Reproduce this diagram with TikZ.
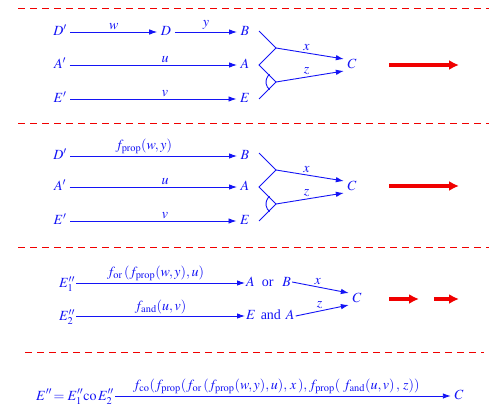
\documentclass[tikz,border=0pt]{standalone}
\usepackage{mathptmx}
\usepackage{fontspec}
\setmainfont{Liberation Serif}
\usetikzlibrary{arrows.meta}
\definecolor{dblue}{RGB}{20,20,245}
\definecolor{dred}{RGB}{240,0,0}
\begin{document}
\begin{tikzpicture}[x=1pt,y=-1pt,
  every node/.style={text=dblue, font=\fontsize{14}{16}\selectfont, inner sep=1.5pt},
  letter/.style={text height=9.5pt, text depth=2pt, inner xsep=3.5pt},
  arr/.style={draw=dblue, line width=0.9pt, -{Latex[length=8pt,width=5.5pt]}},
  fork/.style={draw=dblue, line width=0.9pt},
  sep/.style={draw=dred, line width=0.8pt, dash pattern=on 7pt off 5pt},
  bigarr/.style={draw=dred, line width=3.5pt, -{Latex[length=10pt,width=10pt]}},
  lab/.style={above, inner sep=2pt}]
\useasboundingbox (0,0) rectangle (489,409);

% separators
\coordinate (s1a) at (18,8);   \coordinate (s1b) at (489,8);
\coordinate (s2a) at (18,123); \coordinate (s2b) at (489,123);
\coordinate (s3a) at (18,247); \coordinate (s3b) at (489,247);
\coordinate (s4a) at (25,352); \coordinate (s4b) at (484,352);
\draw[sep] (s1a) -- (s1b);
\draw[sep] (s2a) -- (s2b);
\draw[sep] (s3a) -- (s3b);
\draw[sep] (s4a) -- (s4b);

% ---------- block 1 ----------
\node[letter] (Dp) at (60,32) {$D'$};
\node[letter] (D) at (166,32) {$D$};
\node[letter] (B) at (245,32) {$B$};
\node[letter] (Ap) at (60,65) {$A'$};
\node[letter] (A) at (245,65) {$A$};
\node[letter] (Ep) at (60,99) {$E'$};
\node[letter] (E) at (245,99) {$E$};
\node[letter] (C) at (352,65) {$C$};
\draw[arr] (Dp) -- node[lab]{$w$} (D);
\draw[arr] (D) -- node[lab]{$y$} (B);
\draw[arr] (Ap) -- node[lab, pos=.57]{$u$} (A);
\draw[arr] (Ep) -- node[lab, pos=.57]{$v$} (E);
\coordinate (b1) at (259,31);  \coordinate (j1) at (276,48);
\coordinate (a1) at (259,65);  \coordinate (j2) at (276,82);
\coordinate (e1) at (259,99);
\draw[fork] (b1) -- (j1) -- (a1) -- (j2) -- (e1);
\draw[fork] ([shift={(130:10pt)}]j2) arc[start angle=130, end angle=230, radius=10pt];
\draw[arr] (j1) -- node[lab, pos=.45]{$x$} ([yshift=6pt]C.west);
\draw[arr] (j2) -- node[lab, pos=.45]{$z$} ([yshift=-6pt]C.west);
\coordinate (r1a) at (389,65); \coordinate (r1b) at (459,65);
\draw[bigarr] (r1a) -- (r1b);

% ---------- block 2 ----------
\node[letter] (Dp2) at (60,156) {$D'$};
\node[letter] (B2) at (245,156) {$B$};
\node[letter] (Ap2) at (60,187) {$A'$};
\node[letter] (A2) at (245,187) {$A$};
\node[letter] (Ep2) at (60,221) {$E'$};
\node[letter] (E2) at (245,221) {$E$};
\node[letter] (C2) at (352,187) {$C$};
\draw[arr] (Dp2) -- node[lab, pos=.44]{$f_{\mathrm{prop}}(w,y)$} (B2);
\draw[arr] (Ap2) -- node[lab, pos=.57]{$u$} (A2);
\draw[arr] (Ep2) -- node[lab, pos=.57]{$v$} (E2);
\coordinate (b2) at (259,153);  \coordinate (k1) at (276,170);
\coordinate (a2) at (259,187);  \coordinate (k2) at (276,204);
\coordinate (e2) at (259,221);
\draw[fork] (b2) -- (k1) -- (a2) -- (k2) -- (e2);
\draw[fork] ([shift={(130:10pt)}]k2) arc[start angle=130, end angle=230, radius=10pt];
\draw[arr] (k1) -- node[lab, pos=.45]{$x$} ([yshift=6pt]C2.west);
\draw[arr] (k2) -- node[lab, pos=.45]{$z$} ([yshift=-6pt]C2.west);
\coordinate (r2a) at (389,186); \coordinate (r2b) at (459,186);
\draw[bigarr] (r2a) -- (r2b);

% ---------- block 3 ----------
\node[inner sep=1pt] (E1) at (67,284) {$E''_1$};
\node[inner sep=1pt] (E2pp) at (67,317) {$E''_2$};
\node[letter, anchor=west, inner xsep=1pt] (AB) at (245,283) {$A$\hspace{7pt}or\hspace{9pt}$B$};
\node[letter, anchor=west, inner xsep=1pt] (EA) at (245,316) {$E$\hspace{5pt}and\hspace{5pt}$A$};
\node[letter] (C3) at (357,299) {$C$};
\draw[arr] (E1.east |- AB.west) -- node[lab, pos=.47]{$f_{\mathrm{or}}\,(f_{\mathrm{prop}}(w,y),u)$} (AB.west);
\draw[arr] (E2pp.east |- EA.west) -- node[lab, pos=.5]{$f_{\mathrm{and}}(u,v)$} (EA.west);
\draw[arr] ([yshift=1pt]AB.east) -- node[lab, pos=.45]{$x$} ([yshift=6pt]C3.west);
\draw[arr] (EA.east) -- node[lab, pos=.45]{$z$} ([yshift=-6pt]C3.west);
\coordinate (r3a) at (389,299); \coordinate (r3b) at (419,299);
\coordinate (r4a) at (434,299); \coordinate (r4b) at (459,299);
\draw[bigarr] (r3a) -- (r3b);
\draw[bigarr] (r4a) -- (r4b);

% ---------- block 4 ----------
\node[anchor=base west, inner sep=1pt] (F) at (35,400) {$E''\!=E''_1\mathrm{co}\,E''_2$};
\node[letter] (C4) at (459,396) {$C$};
\draw[arr] (F.east |- C4.west) -- node[lab, pos=.48]{$f_{\mathrm{co}}(f_{\mathrm{prop}}(f_{\mathrm{or}}\,(f_{\mathrm{prop}}(w,y),u),\,x\,),f_{\mathrm{prop}}(\;f_{\mathrm{and}}(u,v)\,,\,z))$} (C4.west);
\end{tikzpicture}
\end{document}
